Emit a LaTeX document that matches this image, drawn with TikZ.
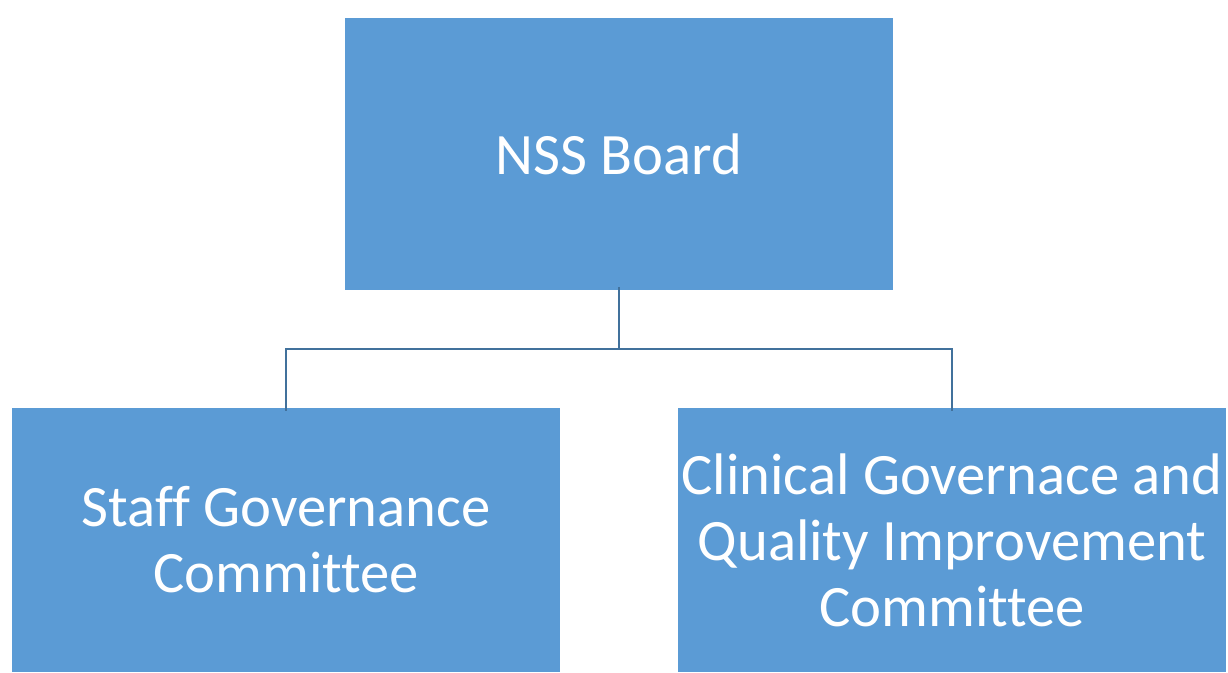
\documentclass[tikz,border=0pt]{standalone}
\usepackage{fontspec}
\setmainfont{Carlito}[Ligatures=NoCommon]
\definecolor{boxblue}{RGB}{91,155,213}
\definecolor{linkblue}{RGB}{65,113,156}
\tikzset{
  unit/.style={fill=boxblue, text=white,
    font=\fontsize{44}{49.5}\selectfont, align=center, inner sep=0pt},
  link/.style={draw=linkblue, line width=1.8pt},
}
\begin{document}
\begin{tikzpicture}[x=0.75pt,y=0.75pt,yscale=-1,xscale=1]
\useasboundingbox (0,0) rectangle (1228,672);

% Boxes
\node [unit, minimum width=411pt, minimum height=204pt] (board) at (619,154) {NSS Board};
\node [unit, minimum width=411pt, minimum height=198pt] (staff) at (286,540) {Staff Governance\\Committee};
\node [unit, minimum width=411pt, minimum height=198pt] (clinical) at (952,540) {Clinical Governace and\\Quality Improvement\\Committee};

% Connectors
\coordinate (split) at (619,349);
\draw [link] ([yshift=-2.25pt]board.south) -- (split);
\draw [link] (split) -| ([yshift=2.25pt]staff.north);
\draw [link] (split) -| ([yshift=2.25pt]clinical.north);

\end{tikzpicture}
\end{document}
